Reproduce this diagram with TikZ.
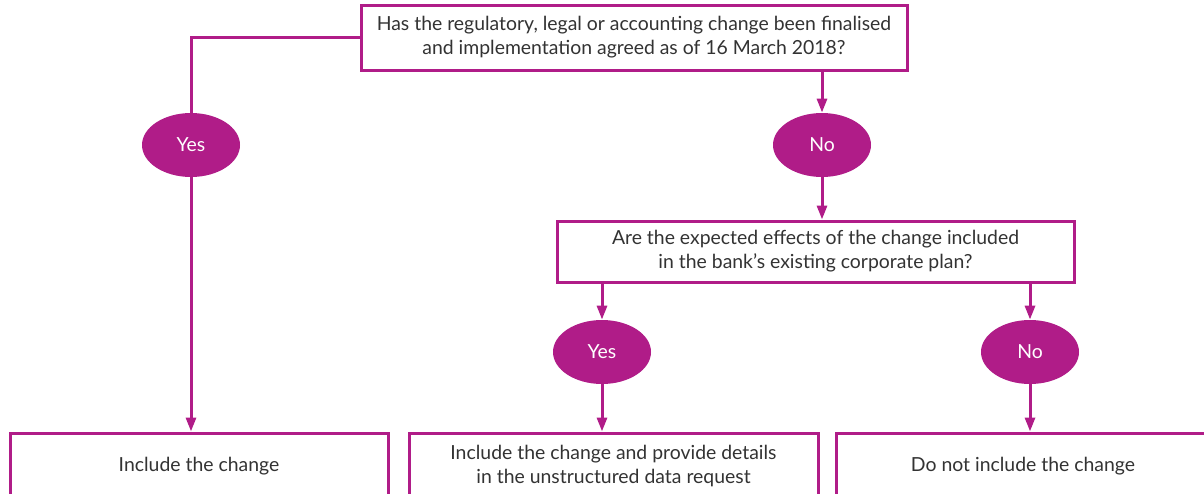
\documentclass[tikz,border=0pt]{standalone}
\usepackage{fontspec}
\setmainfont{Lato}
\usepackage{xcolor}
\usetikzlibrary{shapes.geometric,arrows.meta}

\definecolor{boemag}{RGB}{176,28,136}
\definecolor{boegrey}{RGB}{51,51,51}

\tikzset{
  qbox/.style={draw=boemag,line width=1.5pt,fill=white,align=center,text=boegrey,inner sep=0pt},
  answer/.style={ellipse,fill=boemag,text=white,minimum width=49pt,minimum height=32pt,inner sep=0pt},
  flow/.style={draw=boemag,line width=1.5pt,-{Triangle[width=5pt,length=7pt]}},
  link/.style={draw=boemag,line width=1.5pt}
}

\begin{document}
\begin{tikzpicture}[x=0.5pt,y=-0.5pt,font=\fontsize{9.7}{12}\selectfont]
\useasboundingbox (0,0) rectangle (1204,493);

\node[qbox,minimum width=273pt,minimum height=32.5pt] (final) at (634,37.5)
  {Has the regulatory, legal or accounting change been finalised\\ and implementation agreed as of 16 March 2018?};

\node[answer] (yesfinal) at (191,145) {Yes};
\node[answer] (nofinal) at (822,145) {No};

\node[qbox,minimum width=258.5pt,minimum height=30.5pt] (inplan) at (815.5,251.5)
  {Are the expected effects of the change included\\ in the bank's existing corporate plan?};

\node[answer] (yesplan) at (602,352) {Yes};
\node[answer] (noplan) at (1030,352) {No};

\node[qbox,minimum width=189pt,minimum height=33.5pt] (include) at (199,466.5) {Include the change};
\node[qbox,minimum width=204.5pt,minimum height=33.5pt] (details) at (613.5,466.5)
  {Include the change and provide details\\ in the unstructured data request};
\node[qbox,minimum width=187pt,minimum height=33.5pt] (exclude) at (1023,466.5) {Do not include the change};

\draw[link] (final.west) -| (yesfinal.north);
\draw[flow] (yesfinal.south) -- (yesfinal.south |- include.north);
\draw[flow] (final.south -| nofinal) -- (nofinal.north);
\draw[flow] (nofinal.south) -- (nofinal.south |- inplan.north);
\draw[flow] (inplan.south -| yesplan) -- (yesplan.north);
\draw[flow] (inplan.south -| noplan) -- (noplan.north);
\draw[flow] (yesplan.south) -- (yesplan.south |- details.north);
\draw[flow] (noplan.south) -- (noplan.south |- exclude.north);
\end{tikzpicture}
\end{document}
